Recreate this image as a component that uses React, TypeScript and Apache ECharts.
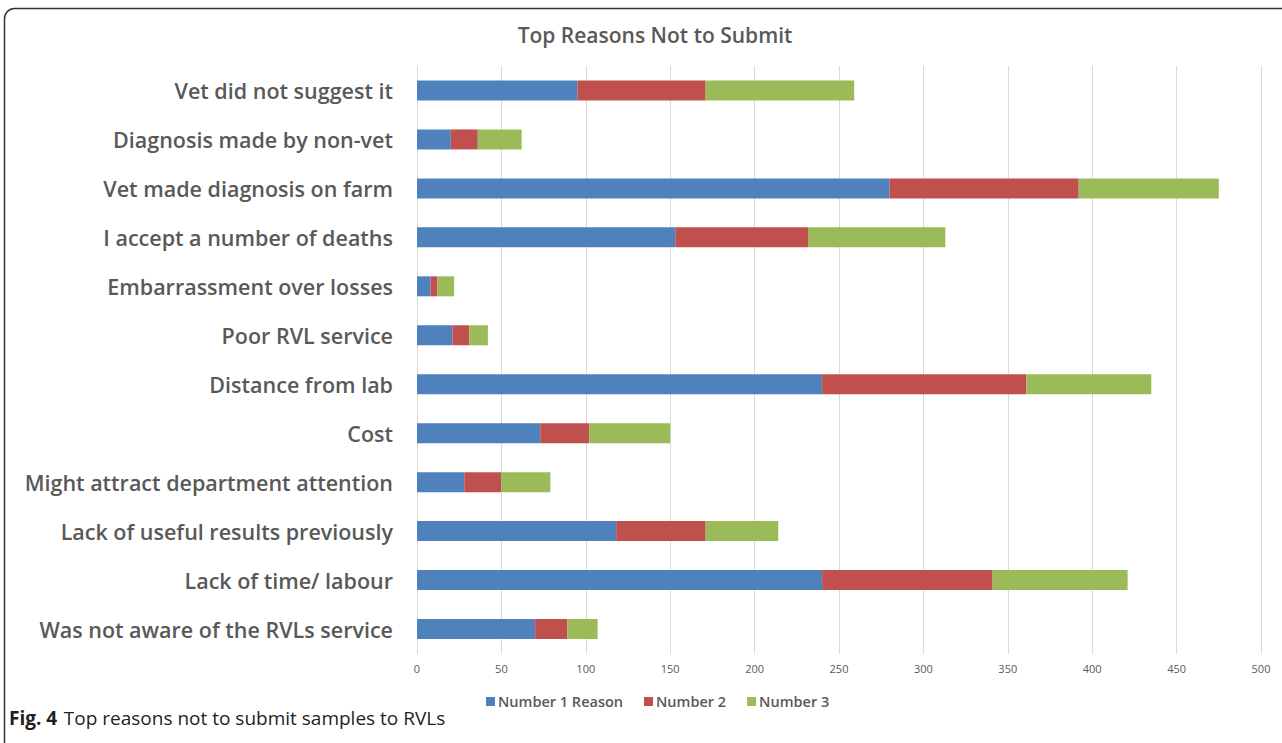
import React, { useEffect, useRef } from "react";
import * as echarts from "echarts";

const categories = [
  "Vet did not suggest it",
  "Diagnosis made by non-vet",
  "Vet made diagnosis on farm",
  "I accept a number of deaths",
  "Embarrassment over losses",
  "Poor RVL service",
  "Distance from lab",
  "Cost",
  "Might attract department attention",
  "Lack of useful results previously",
  "Lack of time/ labour",
  "Was not aware of the RVLs service",
];
const number1 = [95, 20, 280, 153, 8, 21, 240, 73, 28, 118, 240, 70];
const number2 = [76, 16, 112, 79, 4, 10, 121, 29, 22, 53, 101, 19];
const number3 = [88, 26, 83, 81, 10, 11, 74, 48, 29, 43, 80, 18];
const seriesNames = ["Number 1 Reason", "Number 2", "Number 3"];
const colors = ["#4f81bd", "#c0504d", "#9bbb59"];
const titleText = "Top Reasons Not to Submit";

export default function App() {
  const ref = useRef<HTMLDivElement>(null);
  useEffect(() => {
    if (!ref.current) return;
    const chart = echarts.init(ref.current, null, { renderer: "svg" });
    const values = [number1, number2, number3];
    chart.setOption({
      animation: false,
      backgroundColor: "#ffffff",
      title: {
        text: titleText,
        left: 650,
        textAlign: "center",
        top: 19,
        textStyle: { fontFamily: "Open Sans", fontWeight: 600, fontSize: 21, color: "#595959" },
      },
      legend: {
        data: seriesNames,
        left: 481,
        top: 689,
        itemWidth: 9,
        itemHeight: 9,
        itemGap: 21,
        icon: "rect",
        textStyle: { fontFamily: "Open Sans", fontWeight: 600, fontSize: 14.5, color: "#595959", padding: [0, 0, 0, -2] },
      },
      grid: { left: 417, right: 21, top: 66, bottom: 89.5, containLabel: false },
      xAxis: {
        type: "value",
        min: 0,
        max: 500,
        interval: 50,
        axisLine: { show: false },
        axisTick: { show: false },
        splitLine: { show: true, lineStyle: { color: "#d9d9d9", width: 1 } },
        axisLabel: { fontFamily: "Open Sans", fontSize: 11, color: "#595959", margin: 9 },
      },
      yAxis: {
        type: "category",
        data: categories,
        inverse: true,
        axisLine: { show: true, lineStyle: { color: "#d9d9d9" } },
        axisTick: { show: false },
        axisLabel: { fontFamily: "Open Sans", fontWeight: 600, fontSize: 21.5, color: "#595959", margin: 24 },
      },
      series: values.map((v, i) => ({
        name: seriesNames[i],
        type: "bar",
        stack: "total",
        data: v,
        barWidth: 20,
        itemStyle: { color: colors[i] },
      })),
      graphic: [
        {
          type: "rect",
          shape: { x: 4.5, y: 8.5, width: 1400, height: 900, r: [10, 0, 0, 0] },
          style: { fill: "none", stroke: "#333333", lineWidth: 1.5 },
          silent: true,
        },
        {
          type: "text",
          left: 9,
          top: 708,
          style: {
            text: "{b|Fig. 4}  {n|Top reasons not to submit samples to RVLs}",
            rich: {
              b: { fontFamily: "Open Sans", fontWeight: "bold", fontSize: 19, fill: "#231f20" },
              n: { fontFamily: "Open Sans", fontSize: 19, fill: "#231f20" },
            },
          },
        },
      ],
    });
    return () => chart.dispose();
  }, []);
  return (
    <div
      ref={ref}
      style={{ position: "fixed", left: 0, top: 0, width: 1282, height: 743 }}
    />
  );
}
